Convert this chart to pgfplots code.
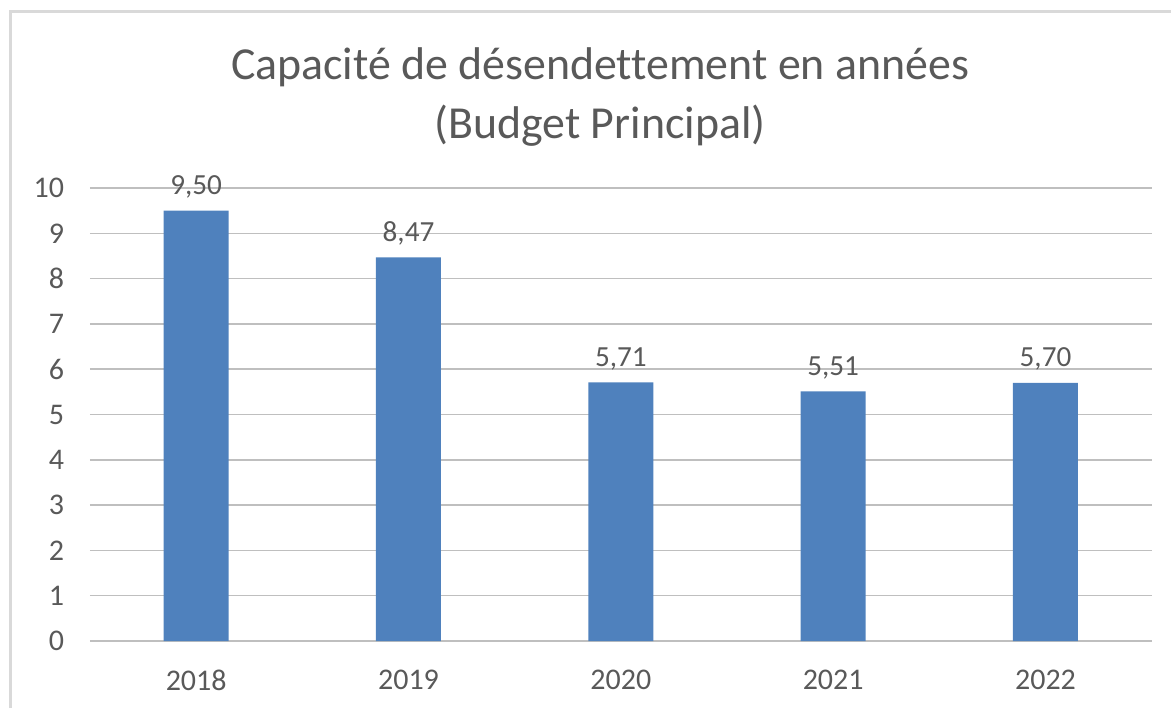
\documentclass[border=0pt]{standalone}
\usepackage{fontspec}
\setmainfont{Carlito}[Ligatures=NoCommon]
\usepackage{pgfplots}
\pgfplotsset{compat=1.18}
\definecolor{barblue}{RGB}{79,129,189}
\definecolor{txt}{RGB}{89,89,89}
\definecolor{grid}{RGB}{217,217,217}
\begin{document}
\begin{tikzpicture}[x=0.6pt,y=0.6pt]
\useasboundingbox (0,0) rectangle (1171,708);
\draw[grid, line width=1.8pt] (10,0) -- (10,696) -- (1171,696);
\node[txt, align=center, font=\fontsize{27.5}{35.5}\selectfont] at (600,611) {Capacité de désendettement en années\\(Budget Principal)};
\begin{axis}[
  at={(54pt,40.2pt)}, anchor=south west,
  scale only axis, width=637pt, height=271.8pt,
  ymin=0, ymax=10, xmin=-0.5, xmax=4.5,
  ytick={0,...,10}, xtick=data,
  xticklabels={2018,2019,2020,2021,2022},
  ybar, bar width=39pt,
  axis line style={draw=none},
  xmajorgrids=false, ymajorgrids, grid style={grid, line width=0.9pt},
  major tick length=0pt, tick style={draw=none},
  tick label style={txt, font=\fontsize{18}{20}\selectfont},
  /pgf/number format/assume math mode=true,
  yticklabel style={xshift=-12pt},
  xticklabel style={yshift=-14pt},
  nodes near coords,
  nodes near coords style={txt, font=\fontsize{17.5}{20}\selectfont, yshift=4pt,
    /pgf/number format/fixed, /pgf/number format/fixed zerofill,
    /pgf/number format/precision=2, /pgf/number format/use comma},
  clip=false,
]
\addplot[fill=barblue, draw=none] coordinates {(0,9.50) (1,8.47) (2,5.71) (3,5.51) (4,5.70)};
\end{axis}
\end{tikzpicture}
\end{document}
